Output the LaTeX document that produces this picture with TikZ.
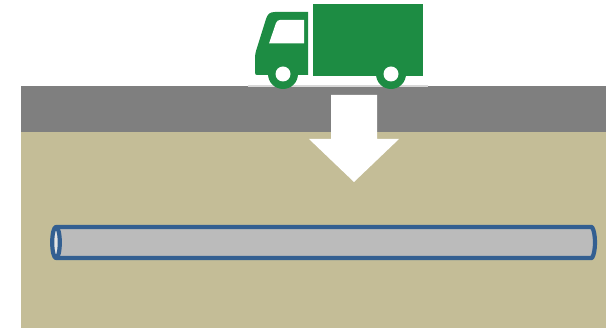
\documentclass[tikz,border=0pt]{standalone}
\definecolor{road}{HTML}{7F7F7F}
\definecolor{soil}{HTML}{C4BD97}
\definecolor{pipeline}{HTML}{335F91}
\definecolor{pipefill}{HTML}{BBBBBB}
\definecolor{truck}{HTML}{1D8C43}
\tikzset{px/.style={x=1pt,y=-1pt},
 pipeedge/.style={draw=pipeline,line width=4.2pt,line join=round}}
\begin{document}
\begin{tikzpicture}[px]
\useasboundingbox (0,0) rectangle (606,328);
\fill[white] (0,0) rectangle (606,328);
% ground
\fill[road] (21,86) rectangle (606,132);
\fill[soil] (21,132) rectangle (606,328);
\fill[white!70!road] (248,85.5) rectangle (428,86.7);
% truck
\fill[truck] (313,4) rectangle (423,76);
\fill[truck] (257,75) .. controls (255.5,75) and (255,74) .. (255,72) -- (255,58) .. controls (255,55) and (255.5,53) .. (256,51)
  -- (266,19) .. controls (267.5,14) and (270,12) .. (275,12) -- (308,12) -- (308,75) -- cycle;
\fill[white] (269,43.5) -- (276,23) .. controls (277,21) and (278,20) .. (280,20)
  -- (304,20) -- (304,43.5) -- cycle;
\fill[truck] (283,74) circle (15);
\fill[truck] (391,74) circle (15);
\fill[white] (283,74) circle (7.5);
\fill[white] (391,74) circle (7.5);
% arrow
\fill[white] (331,95) -- (377,95) -- (377,139) -- (399,139) -- (354,182) -- (309,139) -- (331,139) -- cycle;
% pipe
\path[pipeedge,fill=pipefill] (56,227) -- (592,227) .. controls (596,233) and (596,252) .. (592,258) -- (56,258) -- cycle;
\path[pipeedge,fill=white!60!pipefill] (56,242.5) ellipse (3.8 and 15.5);
\end{tikzpicture}
\end{document}
